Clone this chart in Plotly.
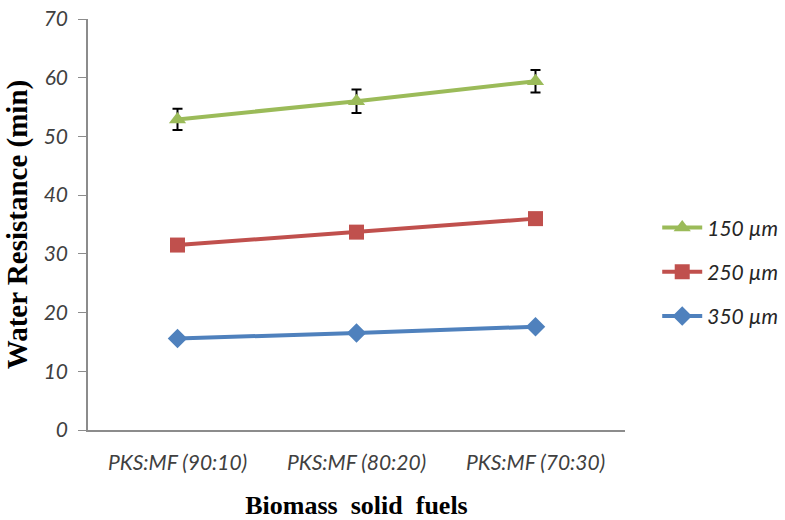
import plotly.graph_objects as go

# Biomass fuel blends and water resistance per particle size
categories = ["PKS:MF (90:10)", "PKS:MF (80:20)", "PKS:MF (70:30)"]
wr_150 = [52.9, 56.0, 59.4]
err_150 = [1.8, 2.0, 1.9]
wr_250 = [31.5, 33.7, 36.0]
wr_350 = [15.6, 16.5, 17.6]
y_ticks = [0, 10, 20, 30, 40, 50, 60, 70]

GREEN = "#9BBB59"
RED = "#C0504D"
BLUE = "#4F81BD"

fig = go.Figure()
fig.add_trace(go.Scatter(
    x=categories, y=wr_150, name="150 µm", mode="lines+markers",
    line=dict(color=GREEN, width=4),
    marker=dict(symbol="triangle-up", size=15, color=GREEN),
    error_y=dict(type="data", array=err_150, color="black", thickness=2, width=5),
    legendgroup="a",
))
fig.add_trace(go.Scatter(
    x=categories, y=wr_250, name="250 µm", mode="lines+markers",
    line=dict(color=RED, width=4),
    marker=dict(symbol="square", size=15, color=RED),
    legendgroup="b",
))
fig.add_trace(go.Scatter(
    x=categories, y=wr_350, name="350 µm", mode="lines+markers",
    line=dict(color=BLUE, width=4),
    marker=dict(symbol="diamond", size=15, color=BLUE),
    legendgroup="c",
))

fig.update_layout(
    width=785, height=520,
    margin=dict(l=88, r=160, t=19, b=90, autoexpand=False),
    paper_bgcolor="white", plot_bgcolor="white",
    xaxis=dict(
        type="category", range=[-0.5, 2.5], automargin=False,
        showline=True, linecolor="#8c8c8c", linewidth=1.5,
        showgrid=False, ticks="",
        tickfont=dict(family="Lato", size=21, color="#404040", style="italic"),
        ticklabelstandoff=13,
        title=dict(text="<b>Biomass  solid  fuels</b>",
                   font=dict(family="Liberation Serif", size=26, color="black"),
                   standoff=24),
    ),
    yaxis=dict(
        range=[0, 70], tickvals=y_ticks, automargin=False,
        showline=True, linecolor="#8c8c8c", linewidth=1.5,
        showgrid=False, ticks="outside", ticklen=8, tickcolor="#8c8c8c",
        tickfont=dict(family="Lato", size=21, color="#404040", style="italic"),
        ticklabelstandoff=6, zeroline=False,
        title=dict(text="<b>Water Resistance (min)</b>",
                   font=dict(family="Liberation Serif", size=29, color="black"),
                   standoff=8),
    ),
    legend=dict(
        x=1.06, y=0.385, xanchor="left", yanchor="middle",
        font=dict(family="Lato", size=21, color="#262626", style="italic"),
        traceorder="grouped", tracegroupgap=14,
        itemwidth=40, bgcolor="rgba(0,0,0,0)",
    ),
    showlegend=True,
)
fig.update_traces(cliponaxis=False)

fig.write_html("out.html")
